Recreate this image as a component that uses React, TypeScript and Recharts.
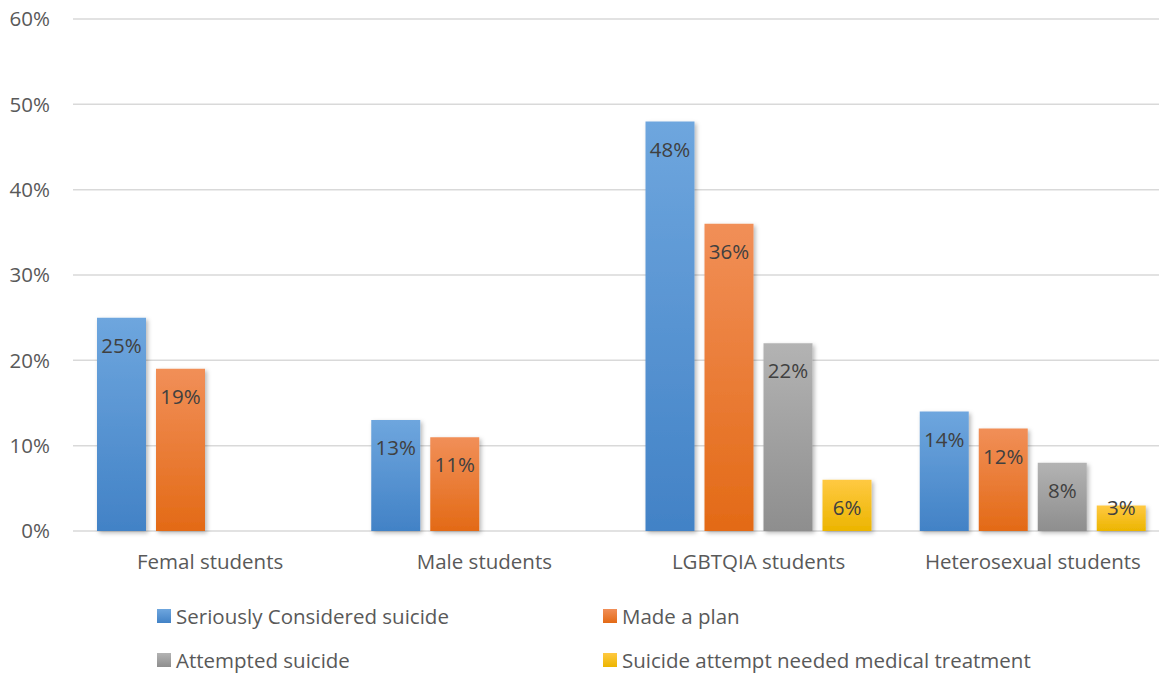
import React from "react";
import { BarChart, Bar, XAxis, YAxis, CartesianGrid, LabelList } from "recharts";

const groups = ["Femal students", "Male students", "LGBTQIA students", "Heterosexual students"];
const considered = [25, 13, 48, 14];
const madePlan = [19, 11, 36, 12];
const attempted = [null, null, 22, 8];
const medical = [null, null, 6, 3];
const yTicks = [0, 10, 20, 30, 40, 50, 60];

const series = [
  { key: "considered", name: "Seriously Considered suicide", top: "#6ea6de", bottom: "#4282c6" },
  { key: "madePlan", name: "Made a plan", top: "#f18f58", bottom: "#e36a16" },
  { key: "attempted", name: "Attempted suicide", top: "#b3b3b3", bottom: "#8e8e8e" },
  { key: "medical", name: "Suicide attempt needed medical treatment", top: "#ffc942", bottom: "#ecb500" },
];

const data = groups.map((g, i) => ({
  group: g,
  considered: considered[i],
  madePlan: madePlan[i],
  attempted: attempted[i],
  medical: medical[i],
}));

const FONT = "'Open Sans', sans-serif";
const FS = 20.5;

function ValueLabel(props: any) {
  const { x, y, width, height, value } = props;
  if (value == null) return null;
  const off = Math.min(28, height - 23);
  return (
    <text
      x={x + width / 2}
      y={y + off}
      dy="0.35em"
      textAnchor="middle"
      fill="#404040"
      fontSize={FS}
      fontFamily={FONT}
    >
      {value}%
    </text>
  );
}

function LegendBox() {
  return (
    <div
      style={{
        position: "absolute",
        left: 157,
        top: 594,
        display: "grid",
        gridTemplateColumns: "446px auto",
        gridAutoRows: "44px",
        fontFamily: FONT,
        fontSize: FS,
        color: "#595959",
      }}
    >
      {series.map((s) => (
        <div key={s.key} style={{ display: "flex", alignItems: "center" }}>
          <span
            style={{
              display: "inline-block",
              width: 14,
              height: 14,
              marginRight: 5,
              background: `linear-gradient(${s.top}, ${s.bottom})`,
            }}
          />
          <span>{s.name}</span>
        </div>
      ))}
    </div>
  );
}

export default function App() {
  return (
    <div
      style={{
        position: "absolute",
        left: 0,
        top: 0,
        width: 1159,
        height: 673,
        overflow: "hidden",
        background: "#fff",
      }}
    >
      <BarChart
        width={1180}
        height={673}
        data={data}
        margin={{ top: 19, right: 10, bottom: 102, left: 0 }}
        barSize={49}
        barGap={10}
        barCategoryGap={24}
      >
        <defs>
          {series.map((s) => (
            <linearGradient key={s.key} id={`grad-${s.key}`} x1="0" y1="0" x2="0" y2="1">
              <stop offset="0%" stopColor={s.top} />
              <stop offset="100%" stopColor={s.bottom} />
            </linearGradient>
          ))}
          <filter id="barShadow" x="-20%" y="-10%" width="150%" height="130%">
            <feDropShadow dx="2" dy="2" stdDeviation="2" floodColor="#000" floodOpacity="0.28" />
          </filter>
        </defs>
        <CartesianGrid vertical={false} stroke="#d9d9d9" strokeWidth={1.5} />
        <XAxis
          dataKey="group"
          axisLine={false}
          tickLine={false}
          tickSize={0}
          tickMargin={23}
          height={40}
          interval={0}
          tick={{ fontSize: FS, fill: "#595959", fontFamily: FONT }}
        />
        <YAxis
          domain={[0, 60]}
          ticks={yTicks}
          width={73}
          axisLine={false}
          tickLine={false}
          tickSize={0}
          tickMargin={23}
          tickFormatter={(v: number) => `${v}%`}
          tick={{ fontSize: FS, fill: "#595959", fontFamily: FONT }}
        />
        {series.map((s) => (
          <Bar
            key={s.key}
            dataKey={s.key}
            name={s.name}
            fill={`url(#grad-${s.key})`}
            filter="url(#barShadow)"
            isAnimationActive={false}
          >
            <LabelList dataKey={s.key} content={ValueLabel} />
          </Bar>
        ))}
      </BarChart>
      <LegendBox />
    </div>
  );
}
